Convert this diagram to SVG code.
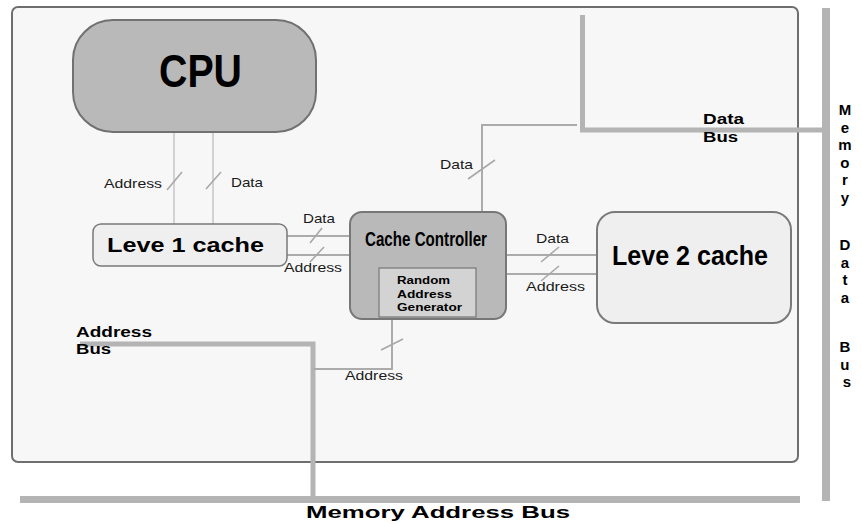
<svg xmlns="http://www.w3.org/2000/svg" width="862" height="524" viewBox="0 0 862 524">
  <style>
    .lbl { font-family: "Liberation Sans", Arial, sans-serif; font-size: 13px; fill: #1a1a1a; }
    .bold { font-family: "Liberation Sans", Arial, sans-serif; font-weight: bold; fill: #000; }
    .bus { stroke: #b4b4b4; fill: none; }
    .wire { stroke: #ababab; stroke-width: 2; fill: none; }
    .wire-lt { stroke: #d2d2d2; stroke-width: 2; fill: none; }
    .tick { stroke: #a8a8a8; stroke-width: 1.6; }
  </style>

  <rect width="862" height="524" fill="#ffffff"/>

  <!-- chip boundary -->
  <rect id="board" x="12" y="7" width="786" height="455" rx="6" fill="#f7f7f7" stroke="#6e6e6e" stroke-width="2"/>

  <!-- system buses -->
  <g id="buses">
    <line class="bus" x1="20" y1="499.5" x2="800" y2="499.5" stroke-width="7"/>
    <line class="bus" x1="826" y1="8" x2="826" y2="501" stroke-width="8"/>
    <polyline class="bus" points="582.5,15 582.5,130 822,130" stroke-width="5"/>
    <polyline class="bus" points="80,344 313,344 313,497" stroke-width="5"/>
  </g>

  <!-- connectors -->
  <g id="connectors">
    <line class="wire-lt" x1="174" y1="133" x2="174" y2="224"/>
    <line class="wire-lt" x1="213" y1="133" x2="213" y2="224"/>
    <line class="tick" x1="167" y1="190" x2="182" y2="172"/>
    <line class="tick" x1="206" y1="189" x2="221" y2="172"/>

    <line class="wire" x1="287" y1="236" x2="350" y2="236"/>
    <line class="wire" x1="287" y1="255" x2="350" y2="255"/>
    <line class="tick" x1="310" y1="243" x2="322" y2="228"/>
    <line class="tick" x1="310" y1="262" x2="324" y2="247"/>

    <line class="wire" x1="506" y1="255" x2="597" y2="255"/>
    <line class="wire" x1="506" y1="274" x2="597" y2="274"/>
    <line class="tick" x1="541" y1="262" x2="559" y2="247"/>
    <line class="tick" x1="541" y1="281" x2="559" y2="266"/>

    <polyline class="wire" points="482,212 482,125 577,125"/>
    <line class="tick" x1="468" y1="179" x2="495" y2="160"/>

    <polyline class="wire" points="392,319 392,369 313,369"/>
    <line class="tick" x1="381" y1="350" x2="403" y2="339"/>
  </g>

  <!-- connector labels -->
  <g id="labels">
    <text class="lbl" x="104" y="188" textLength="58" lengthAdjust="spacingAndGlyphs">Address</text>
    <text class="lbl" x="231" y="187" textLength="32" lengthAdjust="spacingAndGlyphs">Data</text>
    <text class="lbl" x="303" y="223" textLength="32" lengthAdjust="spacingAndGlyphs">Data</text>
    <text class="lbl" x="284" y="272" textLength="58" lengthAdjust="spacingAndGlyphs">Address</text>
    <text class="lbl" x="536" y="243" textLength="33" lengthAdjust="spacingAndGlyphs">Data</text>
    <text class="lbl" x="526" y="291" textLength="59" lengthAdjust="spacingAndGlyphs">Address</text>
    <text class="lbl" x="440" y="169" textLength="33" lengthAdjust="spacingAndGlyphs">Data</text>
    <text class="lbl" x="345" y="380" textLength="58" lengthAdjust="spacingAndGlyphs">Address</text>

    <text class="bold" font-size="14" x="703" y="124" textLength="41" lengthAdjust="spacingAndGlyphs">Data</text>
    <text class="bold" font-size="14" x="703" y="142" textLength="35" lengthAdjust="spacingAndGlyphs">Bus</text>
    <text class="bold" font-size="14" x="76" y="337" textLength="76" lengthAdjust="spacingAndGlyphs">Address</text>
    <text class="bold" font-size="14" x="76" y="354" textLength="35" lengthAdjust="spacingAndGlyphs">Bus</text>
    <text class="bold" font-size="17" x="306" y="518" textLength="264" lengthAdjust="spacingAndGlyphs">Memory Address Bus</text>
    <!-- vertical bus title, one glyph per line -->
    <text class="bold" font-size="15" text-anchor="middle">
      <tspan x="847" y="115">M</tspan>
      <tspan x="847" y="132.5">e</tspan>
      <tspan x="847" y="150">m</tspan>
      <tspan x="847" y="167.5">o</tspan>
      <tspan x="847" y="185">r</tspan>
      <tspan x="847" y="202.5">y</tspan>
      <tspan x="847" y="250">D</tspan>
      <tspan x="847" y="267.5">a</tspan>
      <tspan x="847" y="285">t</tspan>
      <tspan x="847" y="302.5">a</tspan>
      <tspan x="847" y="352">B</tspan>
      <tspan x="847" y="369.5">u</tspan>
      <tspan x="847" y="387">s</tspan>
    </text>
  </g>

  <!-- processor -->
  <g id="cpu">
    <rect x="73" y="20" width="243" height="112" rx="40" fill="#b9b9b9" stroke="#717171" stroke-width="2"/>
    <text class="bold" font-size="47" x="159" y="87" textLength="83" lengthAdjust="spacingAndGlyphs">CPU</text>
  </g>

  <g id="l1-cache">
    <rect x="93" y="224" width="194" height="42" rx="8" fill="#efefef" stroke="#7a7a7a" stroke-width="1.5"/>
    <text class="bold" font-size="20" x="107" y="252" textLength="157" lengthAdjust="spacingAndGlyphs">Leve 1 cache</text>
  </g>

  <g id="cache-controller">
    <rect x="350" y="212" width="156" height="107" rx="12" fill="#b9b9b9" stroke="#777" stroke-width="2"/>
    <text class="bold" font-size="21" x="365" y="246" textLength="122" lengthAdjust="spacingAndGlyphs">Cache Controller</text>
  </g>

  <g id="random-address-generator">
    <rect x="379" y="268" width="97" height="49" fill="#d3d3d3" stroke="#777" stroke-width="1.2"/>
    <text class="bold" font-size="11" x="397" y="284" textLength="53" lengthAdjust="spacingAndGlyphs">Random</text>
    <text class="bold" font-size="11" x="397" y="298" textLength="55" lengthAdjust="spacingAndGlyphs">Address</text>
    <text class="bold" font-size="11" x="397" y="311" textLength="65" lengthAdjust="spacingAndGlyphs">Generator</text>
  </g>

  <g id="l2-cache">
    <rect x="597" y="212" width="194" height="111" rx="18" fill="#efefef" stroke="#7a7a7a" stroke-width="2"/>
    <text class="bold" font-size="27" x="612" y="265" textLength="156" lengthAdjust="spacingAndGlyphs">Leve 2 cache</text>
  </g>
</svg>
